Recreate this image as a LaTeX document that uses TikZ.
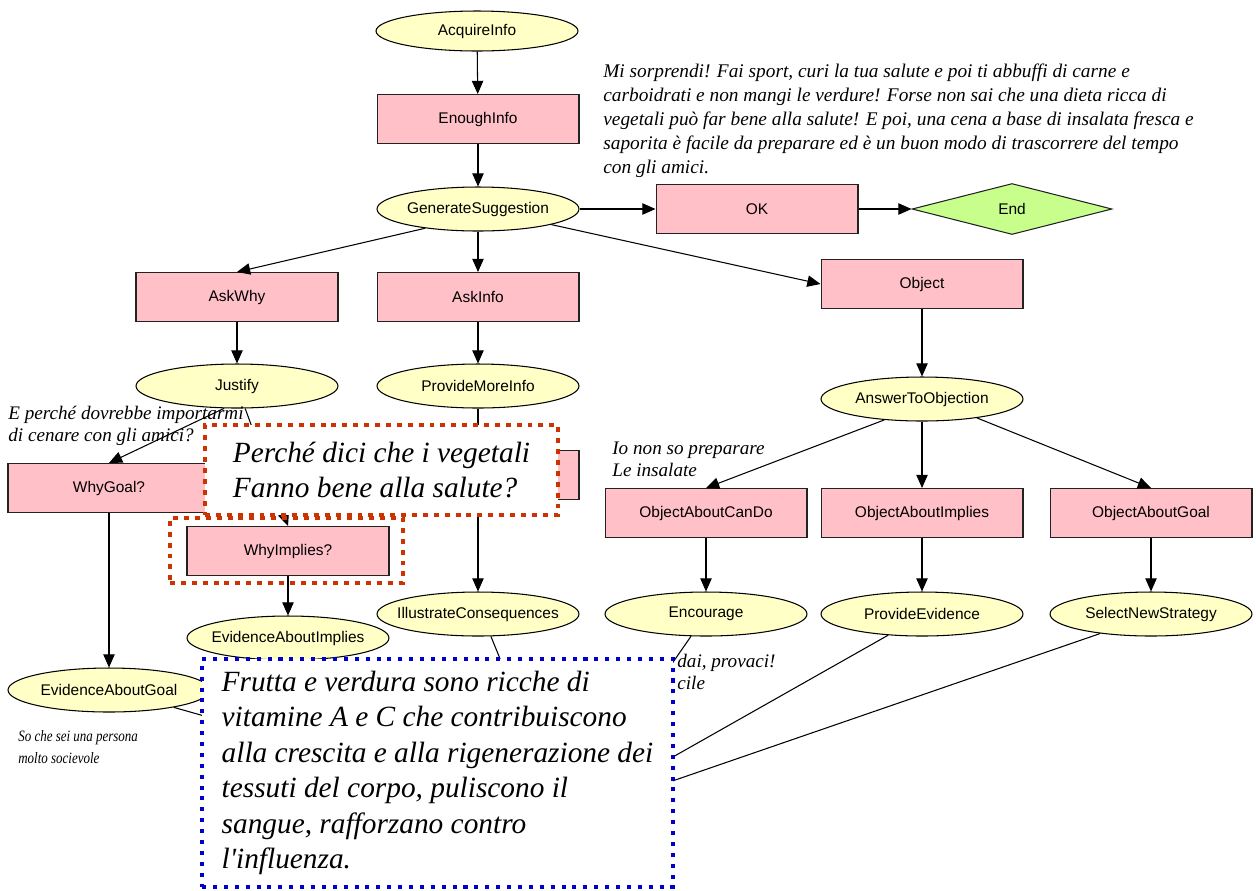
\documentclass[tikz,border=0pt]{standalone}
\usepackage{fontspec}
\setmainfont{Liberation Serif}
\setsansfont{Liberation Sans}
\newfontfamily\narrowserif[FakeStretch=0.82]{Liberation Serif}
\usetikzlibrary{arrows.meta,shapes.geometric}
\definecolor{act}{HTML}{FFC1C7}
\definecolor{dlg}{HTML}{FFFFC6}
\definecolor{fin}{HTML}{C8FF8C}
\definecolor{rdot}{HTML}{CC3300}
\definecolor{bdot}{HTML}{0000CC}
\definecolor{lnc}{HTML}{222222}

\begin{document}
\begin{tikzpicture}[x=0.02cm,y=-0.02cm,
    font=\sffamily\fontsize{8.8}{10}\selectfont,
    actbox/.style={draw=lnc,fill=act,line width=0.6pt,minimum width=4.04cm,minimum height=0.98cm,inner sep=0pt},
    dlgoval/.style={ellipse,draw=black,fill=dlg,line width=0.6pt,minimum width=4.04cm,minimum height=0.88cm,inner xsep=-15pt,inner ysep=0pt},
    findiamond/.style={diamond,draw=lnc,fill=fin,line width=0.6pt,minimum width=4cm,minimum height=1.02cm,inner sep=0pt},
    arr/.style={-{Triangle[length=7.5pt,width=6.5pt]},line width=0.6pt,black},
    remark/.style={font=\rmfamily\itshape\fontsize{10.9}{12.5}\selectfont,align=left,inner sep=0pt,anchor=north west},
    callout/.style={fill=white,align=left,font=\rmfamily\itshape\fontsize{16.7}{20.2}\selectfont}]
  \useasboundingbox (0,0) rectangle (1256,890);

  % main line
  \node[dlgoval,minimum height=0.8cm] (acq) at (477,31) {AcquireInfo};
  \node[actbox] (enough) at (478,119) {EnoughInfo};
  \node[dlgoval] (gen) at (478,209) {GenerateSuggestion};
  \node[actbox] (ok) at (757,209) {OK};
  \node[findiamond] (end) at (1012,209) {End};

  % branches
  \node[actbox] (askwhy) at (237,297) {AskWhy};
  \node[actbox] (askinfo) at (478,297) {AskInfo};
  \node[actbox] (object) at (922,284) {Object};
  \node[dlgoval] (justify) at (237,386) {Justify};
  \node[dlgoval] (moreinfo) at (478,386) {ProvideMoreInfo};
  \node[dlgoval] (answer) at (922,399) {AnswerToObjection};
  \node[actbox] (whygoal) at (109,488) {WhyGoal?};
  \node[actbox] (moreask) at (478,475) {};
  \node[actbox] (whyimpl) at (288,551) {WhyImplies?};
  \node[actbox] (cando) at (706,513) {ObjectAboutCanDo};
  \node[actbox] (implies) at (922,513) {ObjectAboutImplies};
  \node[actbox] (objgoal) at (1151,513) {ObjectAboutGoal};
  \node[dlgoval] (illus) at (478,614) {IllustrateConsequences};
  \node[dlgoval] (encourage) at (706,614) {Encourage};
  \node[dlgoval] (proofs) at (922,614) {ProvideEvidence};
  \node[dlgoval] (newstrat) at (1151,614) {SelectNewStrategy};
  \node[dlgoval] (evimpl) at (288,638) {EvidenceAboutImplies};
  \node[dlgoval] (evgoal) at (109,690) {EvidenceAboutGoal};
  \coordinate (merge) at (565,818);

  \draw[arr] (acq) -- (enough);
  \draw[arr] (enough) -- (gen);
  \draw[arr] (gen) -- (ok);
  \draw[arr] (ok) -- (end);
  \draw[arr] (gen.200) -- (askwhy.north);
  \draw[arr] (gen) -- (askinfo);
  \draw[arr] (gen.-12) -- (object.west);
  \draw[arr] (askwhy) -- (justify);
  \draw[arr] (askinfo) -- (moreinfo);
  \draw[arr] (object) -- (answer);
  \draw[arr] (justify.240) -- (whygoal.north);
  \draw[arr] (justify.290) -- (whyimpl.north);
  \draw[arr] (moreinfo) -- (moreask);
  \draw[arr] (moreask) -- (illus);
  \draw[arr] (whygoal) -- (evgoal);
  \draw[arr] (whyimpl) -- (evimpl);
  \draw[arr] (answer.209) -- (cando.north);
  \draw[arr] (answer) -- (implies);
  \draw[arr] (answer.-19) -- (objgoal.north);
  \draw[arr] (cando) -- (encourage);
  \draw[arr] (implies) -- (proofs);
  \draw[arr] (objgoal) -- (newstrat);
  \foreach \n/\a in {encourage/236,proofs/212,newstrat/201,illus/-60,evgoal/-15}
    \draw[arr] (\n.\a) -- (merge);

  % what the system says
  \node[remark,font=\rmfamily\itshape\fontsize{11}{13.6}\selectfont] (speech) at (603,64)
    {Mi sorprendi! Fai sport, curi la tua salute e poi ti abbuffi di carne e\\
     carboidrati e non mangi le verdure! Forse non sai che una dieta ricca di\\
     vegetali può far bene alla salute! E poi, una cena a base di insalata fresca e\\
     saporita è facile da preparare ed è un buon modo di trascorrere del tempo\\
     con gli amici.};
  \node[remark] (askq) at (8,406) {E perché dovrebbe importarmi\\di cenare con gli amici?};
  \node[remark] (cannot) at (612,442) {Io non so preparare\\Le insalate};
  \node[remark,font=\narrowserif\itshape\fontsize{9}{12.5}\selectfont] (social) at (18,730)
    {So che sei una persona\\molto socievole};
  \node[remark] (trying) at (677,654) {dai, provaci!\\cile};

  % callouts
  \node[callout,draw=rdot,line width=2.8pt,dash pattern=on 2.8pt off 3.4pt,
    minimum width=7.06cm,minimum height=1.8cm] (whyveg) at (381.5,470)
    {Perché dici che i vegetali\\Fanno bene alla salute?};
  \node[draw=rdot,line width=2.8pt,dash pattern=on 2.8pt off 3.4pt,
    minimum width=4.66cm,minimum height=1.3cm] (mark) at (286.5,550.5) {};
  \node[callout,draw=bdot,line width=2.3pt,dash pattern=on 2.3pt off 3.9pt,
    minimum width=9.42cm,minimum height=4.56cm] (facts) at (437.5,773)
    {Frutta e verdura sono ricche di\\vitamine A e C che contribuiscono\\
     alla crescita e alla rigenerazione dei\\tessuti del corpo, puliscono il\\
     sangue, rafforzano contro\\l\textquotesingle influenza.};
\end{tikzpicture}
\end{document}
